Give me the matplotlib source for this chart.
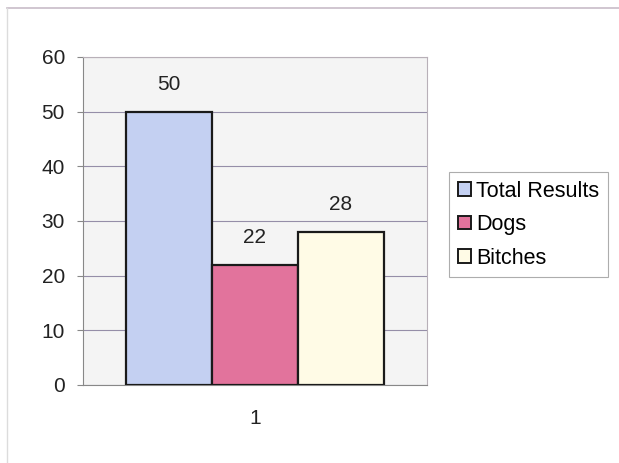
import matplotlib
matplotlib.use("Agg")
import matplotlib.pyplot as plt
from matplotlib.lines import Line2D
from matplotlib.patches import Patch

plt.rcParams['font.family'] = ['Liberation Sans', 'DejaVu Sans']

category = ["1"]
series_names = ["Total Results", "Dogs", "Bitches"]
series_values = [50, 22, 28]
colors = ["#c4d0f2", "#e2739c", "#fffbe6"]
yticks = [0, 10, 20, 30, 40, 50, 60]

fig = plt.figure(figsize=(6.19, 4.63), dpi=100)
fig.patch.set_facecolor("white")
ax = fig.add_axes([83/619, 1-385/463, 344/619, 328/463])
ax.set_facecolor("#f4f4f4")

w = 0.25
x0 = 1
for i, (name, val, c) in enumerate(zip(series_names, series_values, colors)):
    x = x0 + (i - 1) * w
    ax.bar(x, val, width=w, color=c, edgecolor="#1a1a1a", linewidth=1.6, label=name, zorder=3)
    ax.annotate(str(val), (x, val), xytext=(0, 13), textcoords="offset points",
                ha="center", va="bottom", fontsize=15, color="#222222")

ax.set_xlim(0.5, 1.5)
ax.set_ylim(0, 60)
ax.set_yticks(yticks)
ax.set_yticklabels([str(t) for t in yticks], fontsize=15, color="#222222")
ax.set_xticks([x0])
ax.set_xticklabels(category, fontsize=15, color="#222222")
ax.tick_params(axis='x', length=0, pad=17)
ax.tick_params(axis='y', length=4, color="#888888", pad=9, direction='out')
ax.grid(axis='y', color="#958ea8", linewidth=0.8, zorder=1)
for s in ["top", "right"]:
    ax.spines[s].set_color("#b8b0b8")
    ax.spines[s].set_linewidth(0.8)
ax.spines["left"].set_color("#888888")
ax.spines["bottom"].set_color("#888888")

handles = [Patch(facecolor=c, edgecolor="#1a1a1a", linewidth=1.4) for c in colors]
leg = fig.legend(handles, series_names, loc="upper left",
                 bbox_to_anchor=(449/619, 1-172/463), fontsize=15.5,
                 frameon=True, fancybox=False, edgecolor="#999999",
                 handlelength=0.6, handleheight=0.6, handletextpad=0.25,
                 labelspacing=0.58, borderpad=0.4, borderaxespad=0)
leg.get_frame().set_linewidth(0.8)

fig.add_artist(Line2D([7/619, 1], [1-8/463, 1-8/463], color="#c8bcc8", linewidth=1.2))
fig.add_artist(Line2D([7/619, 7/619], [0, 1-8/463], color="#dcdcdc", linewidth=1.0))

fig.savefig("out.png", dpi=100)
